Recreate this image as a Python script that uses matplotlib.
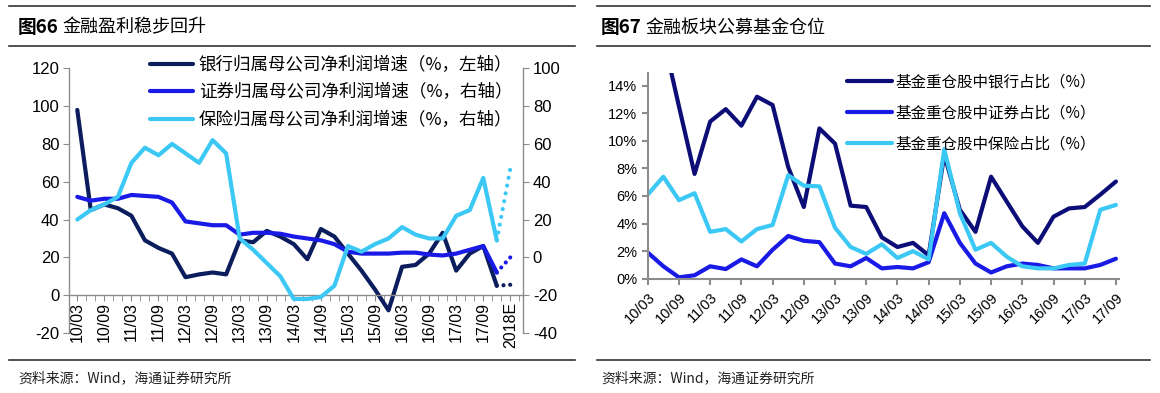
import numpy as np
import matplotlib.pyplot as plt
from matplotlib.lines import Line2D
from matplotlib.ticker import PercentFormatter

plt.rcParams['font.family'] = ['Liberation Sans', 'Noto Sans CJK SC']
plt.rcParams['axes.unicode_minus'] = False
cjk = ['Noto Sans CJK SC', 'Liberation Sans']

# ---- 图66 data (quarterly 10/03 .. 17/12, then 2018E) ----
labels_66 = ['10/03', '10/09', '11/03', '11/09', '12/03', '12/09', '13/03', '13/09',
             '14/03', '14/09', '15/03', '15/09', '16/03', '16/09', '17/03', '17/09', '2018E']
bank_profit = [98, 45, 48, 46, 42, 29, 25, 22, 9.5, 11, 12, 11, 29, 28, 34, 31,
               27, 19, 35, 31, 22, 13, 3, -8, 15, 16, 22, 33, 13, 22, 26, 5]
sec_profit = [32, 30, 31, 31, 33, 32.5, 32, 29, 19, 18, 17, 17, 12, 13, 13, 12.5,
              11, 10, 9, 7, 3, 2, 2, 2, 2.5, 2.5, 1.5, 1, 2, 4, 6, -8]
ins_profit = [20, 25, 28, 32, 50, 58, 54, 60, 55, 50, 62, 55, 10, 4, -3, -10,
              -22, -22, -21, -15, 6, 3, 7, 10, 16, 12, 10, 10, 22, 25, 42, 9]
bank_2018e = 5.5
sec_2018e = 0
ins_2018e = 47

# ---- 图67 data (quarterly 10/03 .. 17/09, %) ----
labels_67 = ['10/03', '10/09', '11/03', '11/09', '12/03', '12/09', '13/03', '13/09',
             '14/03', '14/09', '15/03', '15/09', '16/03', '16/09', '17/03', '17/09']
bank_pos = [19, 17.5, 12.5, 7.6, 11.4, 12.3, 11.1, 13.2, 12.6, 8.1, 5.2, 10.9, 9.8, 5.3, 5.2, 3.0,
            2.3, 2.6, 1.7, 9.0, 5.0, 3.4, 7.4, 5.6, 3.8, 2.6, 4.5, 5.1, 5.2, 6.1, 7.05]
sec_pos = [1.9, 0.9, 0.1, 0.25, 0.9, 0.7, 1.4, 0.9, 2.1, 3.1, 2.75, 2.65, 1.1, 0.9, 1.5, 0.75,
           0.85, 0.75, 1.2, 4.75, 2.6, 1.1, 0.45, 0.9, 1.1, 1.0, 0.75, 0.75, 0.75, 1.0, 1.45]
ins_pos = [6.1, 7.4, 5.7, 6.2, 3.4, 3.6, 2.7, 3.6, 3.9, 7.5, 6.75, 6.7, 3.7, 2.3, 1.8, 2.5,
           1.5, 2.0, 1.4, 9.4, 4.75, 2.1, 2.6, 1.6, 0.9, 0.75, 0.75, 1.0, 1.1, 5.0, 5.35]

c_bank = '#0c1d5e'
c_bank2 = '#0d0d78'
c_sec = '#1a1ae6'
c_ins = '#3cc8f5'
grey = '#8c8c8c'

fig = plt.figure(figsize=(11.6, 3.93), dpi=100)

# frame rules and titles
for x0, x1 in [(0.008, 0.496), (0.515, 0.991)]:
    for y in [0.986, 0.884, 0.084]:
        fig.add_artist(Line2D([x0, x1], [y, y], transform=fig.transFigure, color='#333333', lw=1.2))
fig.text(0.0155, 0.930, '图66', fontsize=13.5, fontweight='bold', va='center', family=cjk)
fig.text(0.054, 0.930, '金融盈利稳步回升', fontsize=13, va='center', family=cjk)
fig.text(0.518, 0.930, '图67', fontsize=13.5, fontweight='bold', va='center', family=cjk)
fig.text(0.5565, 0.930, '金融板块公募基金仓位', fontsize=13, va='center', family=cjk)
fig.text(0.0155, 0.038, '资料来源：Wind，海通证券研究所', fontsize=10, va='center', family=cjk, color='#222222')
fig.text(0.518, 0.038, '资料来源：Wind，海通证券研究所', fontsize=10, va='center', family=cjk, color='#222222')

# ---------------- 图66 ----------------
ax = fig.add_axes([0.0595, 0.1527, 0.3914, 0.6735])
ax2 = ax.twinx()
n = len(bank_profit)
x = np.arange(n)
xe = [n - 1, n]

l1, = ax.plot(x, bank_profit, color=c_bank, lw=3, solid_capstyle='round', solid_joinstyle='round')
ax.plot(xe, [bank_profit[-1], bank_2018e], color=c_bank, lw=3, linestyle=(0, (0.01, 1.6)), dash_capstyle='round')
l2, = ax2.plot(x, sec_profit, color=c_sec, lw=3, solid_capstyle='round', solid_joinstyle='round')
ax2.plot(xe, [sec_profit[-1], sec_2018e], color=c_sec, lw=3, linestyle=(0, (0.01, 1.6)), dash_capstyle='round')
l3, = ax2.plot(x, ins_profit, color=c_ins, lw=3, solid_capstyle='round', solid_joinstyle='round')
ax2.plot(xe, [ins_profit[-1], ins_2018e], color=c_ins, lw=3, linestyle=(0, (0.01, 1.9)), dash_capstyle='round')

ax.set_xlim(-0.61, 32.94)
ax.set_ylim(-20, 120)
ax2.set_ylim(-40, 100)
ax.set_yticks(range(-20, 121, 20))
ax2.set_yticks(range(-40, 101, 20))
ax.set_xticks(range(0, 2 * len(labels_66), 2))
ax.set_xticklabels(labels_66)
ax.set_xticks(np.arange(0, 33, 2 / 3), minor=True)

for s in ['top', 'right']:
    ax.spines[s].set_visible(False)
for s in ['top', 'left', 'bottom']:
    ax2.spines[s].set_visible(False)
ax.spines['bottom'].set_position(('data', 0))
for sp in [ax.spines['left'], ax.spines['bottom'], ax2.spines['right']]:
    sp.set_color(grey)
    sp.set_linewidth(1)
ax.tick_params(axis='y', direction='out', length=4, color=grey, labelsize=12, pad=3)
ax2.tick_params(axis='y', direction='out', length=4, color=grey, labelsize=12, pad=3)
ax.tick_params(axis='x', which='both', direction='out', length=4, color=grey, labelsize=11.5, pad=1,
               labelrotation=90)

ax2.legend([l1, l2, l3],
           ['银行归属母公司净利润增速（%，左轴）', '证券归属母公司净利润增速（%，右轴）', '保险归属母公司净利润增速（%，右轴）'],
           loc='upper left', bbox_to_anchor=(0.129, 0.858), bbox_transform=fig.transFigure,
           frameon=False, handlelength=2.5, handletextpad=0.3, labelspacing=0.55,
           borderpad=0, borderaxespad=0, prop={'family': cjk, 'size': 12.6})

# ---------------- 图67 ----------------
ax3 = fig.add_axes([0.5584, 0.2908, 0.4063, 0.5227])
m = len(bank_pos)
xm = np.arange(m)
k1, = ax3.plot(xm, bank_pos, color=c_bank2, lw=3, solid_capstyle='round', solid_joinstyle='round')
k2, = ax3.plot(xm, sec_pos, color=c_sec, lw=3, solid_capstyle='round', solid_joinstyle='round')
k3, = ax3.plot(xm, ins_pos, color=c_ins, lw=3, solid_capstyle='round', solid_joinstyle='round')
ax3.set_xlim(0, 30.2)
ax3.set_ylim(0, 14.9)
ax3.set_yticks(range(0, 15, 2))
ax3.yaxis.set_major_formatter(PercentFormatter(decimals=0))
ax3.set_xticks(range(0, 2 * len(labels_67), 2))
ax3.set_xticklabels(labels_67, rotation=45, ha='right', rotation_mode='anchor')
for s in ['top', 'right']:
    ax3.spines[s].set_visible(False)
for s in ['left', 'bottom']:
    ax3.spines[s].set_color(grey)
    ax3.spines[s].set_linewidth(1.5)
ax3.tick_params(direction='out', length=4, color=grey, width=1.5, labelsize=10.5)
ax3.tick_params(axis='x', pad=4)

ax3.legend([k1, k2, k3],
           ['基金重仓股中银行占比（%）', '基金重仓股中证券占比（%）', '基金重仓股中保险占比（%）'],
           loc='upper left', bbox_to_anchor=(0.730, 0.812), bbox_transform=fig.transFigure,
           frameon=False, handlelength=2.9, handletextpad=0.2, labelspacing=0.9,
           borderpad=0, borderaxespad=0, prop={'family': cjk, 'size': 11.2})

fig.savefig('out.png', dpi=100)
